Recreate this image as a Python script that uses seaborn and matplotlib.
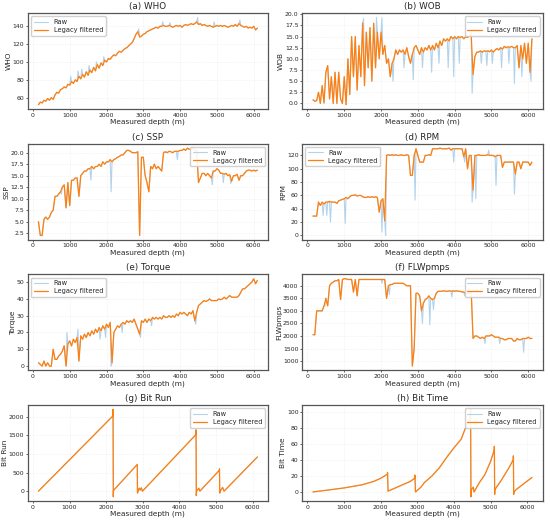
import numpy as np
import pandas as pd
import matplotlib
matplotlib.use('Agg')
import matplotlib.pyplot as plt
from matplotlib.ticker import MultipleLocator
import seaborn as sns

# measured depth sampling (m) for the logged channels
depth = np.arange(150, 6150, 50)

who = [52, 55, 54, 57, 56, 59, 57, 60, 58, 63,
       66, 65, 69, 70, 72, 71, 75, 74, 78, 76,
       80, 78, 84, 81, 86, 83, 89, 85, 91, 88,
       94, 90, 97, 93, 99, 96, 102, 100, 104, 103,
       106, 108, 107, 110, 112, 111, 113, 115, 116, 118,
       120, 122, 126, 131, 134, 128, 129, 131, 132, 134,
       135, 136, 137, 138, 139, 138, 140, 140, 141, 140,
       140, 141, 140, 139, 140, 141, 140, 141, 139, 141,
       142, 141, 142, 143, 142, 143, 145, 142, 143, 141,
       142, 141, 140, 141, 140, 139, 140, 141, 140, 141,
       140, 141, 140, 139, 140, 141, 140, 142, 140, 143,
       141, 140, 139, 140, 138, 139, 138, 140, 136, 138]
who_spk_d = [1025, 1225, 1325, 1525, 1725, 1925, 2875, 3525, 3725, 4475, 4925, 5625]
who_spk_v = [84, 90, 92, 96, 100, 106, 137, 145, 144, 150, 145, 147]

wob = [0.8, 0.5, 0.6, 2.5, 0.0, 4.0, 0.1, 7.0, 8.5, 1.0,
       6.0, 0.0, 7.0, 0.0, 7.0, 1.0, 0.0, 6.0, -0.3, 10.0,
       2.0, 15.0, 6.0, 15.0, 3.0, 13.0, 6.0, 18.0, 4.0, 16.0,
       8.0, 17.0, 5.0, 18.0, 8.0, 16.0, 10.0, 16.0, 11.0, 13.0,
       9.0, 10.0, 6.0, 9.0, 10.0, 12.0, 11.0, 12.0, 11.5, 12.0,
       11.0, 12.5, 10.5, 9.0, 11.0, 12.5, 13.0, 12.0, 11.0, 12.5,
       11.5, 12.5, 12.0, 13.0, 12.0, 13.0, 12.0, 13.5, 12.5, 14.0,
       13.0, 14.5, 14.0, 14.5, 14.0, 15.0, 14.5, 15.0, 14.5, 15.0,
       14.8, 15.0, 14.5, 15.0, 14.8, 15.2, 15.5, 6.5, 10.5, 11.5,
       11.5, 11.8, 11.5, 11.8, 11.7, 11.8, 11.6, 12.0, 11.5, 12.0,
       12.3, 12.0, 12.5, 12.2, 12.8, 12.5, 12.7, 12.6, 12.8, 12.5,
       12.5, 13.0, 8.0, 13.0, 10.0, 13.5, 9.0, 13.5, 7.0, 14.5]
wob_spk_d = [1525, 1875, 2025, 2325, 2625, 2875, 3125, 3375, 3575, 3825, 3975,
             4125, 4475, 4725, 4875, 5025, 5275, 5475, 5625, 5825, 6075]
wob_spk_v = [19.0, 19.3, 19.2, 5.0, 8.0, 5.3, 8.0, 7.0, 9.0, 8.0, 6.0,
             9.0, 2.3, 9.0, 8.5, 9.0, 8.0, 9.0, 4.5, 6.0, 5.0]

ssp = [5.0, 2.0, 2.0, 5.5, 6.0, 5.5, 6.0, 7.0, 7.5, 10.5,
       10.5, 11.0, 11.5, 12.5, 13.0, 8.0, 13.5, 8.5, 14.0, 14.0,
       14.5, 14.5, 10.5, 15.0, 15.5, 16.0, 16.0, 16.5, 16.5, 17.0,
       16.5, 17.0, 17.0, 17.5, 17.0, 18.0, 17.5, 18.0, 18.0, 18.5,
       18.0, 18.5, 18.7, 19.0, 19.2, 19.5, 19.5, 20.0, 20.5, 20.5,
       20.3, 20.0, 20.0, 20.0, 20.2, 2.0, 19.0, 19.0, 15.0, 13.5,
       11.5, 17.0, 16.5, 17.5, 16.5, 17.0, 16.5, 16.0, 20.0, 20.2,
       20.0, 20.3, 20.2, 20.0, 20.3, 20.3, 20.3, 20.5, 20.5, 20.8,
       20.5, 21.0, 20.7, 20.8, 21.0, 20.5, 20.5, 13.5, 14.5, 15.5,
       15.5, 15.0, 15.5, 15.0, 14.5, 16.0, 16.0, 16.5, 16.2, 15.5,
       15.5, 15.3, 15.5, 15.0, 15.2, 13.8, 15.0, 15.0, 15.3, 14.0,
       15.0, 15.0, 15.5, 16.0, 16.2, 16.2, 16.0, 16.2, 16.0, 16.2]
ssp_spk_d = [775, 1575, 2125, 3925, 4875, 5175, 5375]
ssp_spk_v = [11.0, 14.0, 11.5, 18.5, 13.0, 13.5, 13.3]

rpm = [29, 29, 29, 50, 45, 50, 47, 50, 50, 51,
       50, 50, 50, 48, 52, 53, 54, 55, 57, 55,
       58, 60, 60, 61, 59, 60, 60, 58, 57, 57,
       58, 57, 58, 57, 58, 57, 35, 52, 55, 22,
       120, 121, 120, 121, 120, 121, 120, 120, 121, 120,
       120, 121, 120, 90, 90, 120, 130, 120, 110, 110,
       110, 120, 120, 121, 120, 130, 130, 130, 130, 131,
       130, 130, 130, 130, 131, 128, 130, 130, 130, 130,
       130, 130, 118, 130, 100, 120, 120, 68, 120, 120,
       121, 120, 120, 120, 120, 121, 120, 120, 120, 118,
       120, 120, 120, 102, 110, 110, 110, 110, 110, 110,
       92, 110, 110, 100, 110, 110, 110, 110, 105, 110]
rpm_spk_d = [425, 525, 625, 1025, 2025, 2125, 2925, 3975, 4275, 4475, 4575, 4925, 5125, 5625]
rpm_spk_v = [30, 30, 20, 18, 5, 0, 53, 110, 110, 50, 55, 128, 75, 62]

torque = [2, 1, 0, 3, 0, 2, 0, 0, 10, 4,
          4, 6, 7, 9, 12, 0, 13, 15, 12, 16,
          14, 17, 3, 18, 16, 19, 17, 20, 18, 21,
          19, 22, 20, 23, 21, 24, 22, 25, 23, 26,
          2, 20, 22, 24, 23, 25, 26, 25, 27, 26,
          27, 26, 28, 25, 22, 19, 27, 26, 28, 26,
          28, 27, 29, 28, 29, 28, 29, 28, 30, 29,
          29, 30, 29, 30, 29, 31, 30, 32, 31, 32,
          31, 30, 32, 31, 33, 27, 32, 36, 37, 38,
          39, 38.5, 39, 40, 39, 39, 39, 39, 40, 39.5,
          40, 41, 40, 41, 42, 41, 41, 41, 41, 42,
          44, 46, 46, 47, 48, 49, 50, 52, 49, 51]
torque_spk_d = [925, 1225, 1825, 1975, 2125, 2425, 2925, 3225, 4425]
torque_spk_v = [20, 22, 16, 17, 0, 20, 17, 24, 25]

flw = [2050, 2050, 3000, 3000, 3000, 3000, 3200, 3500, 3200, 4000,
       4100, 4150, 4200, 4200, 4250, 3450, 4250, 4280, 4280, 4250,
       4250, 4250, 3750, 4250, 3600, 4250, 4250, 4250, 4250, 4250,
       4250, 4250, 4250, 4250, 4250, 4250, 4250, 4250, 4250, 4250,
       3500, 4000, 4050, 4050, 4100, 4100, 4100, 4100, 4100, 4100,
       4050, 4000, 4000, 4000, 800, 1500, 3700, 3700, 3600, 3000,
       3300, 3450, 3500, 3600, 3500, 3450, 3500, 3700, 3780, 3780,
       3780, 3800, 3780, 3780, 3800, 3780, 3800, 3780, 3800, 3780,
       3780, 3750, 3750, 3700, 3700, 3700, 3800, 1900, 2000, 2000,
       1950, 1900, 1950, 1900, 2000, 2000, 2000, 2050, 2000, 1950,
       1950, 1950, 1900, 1900, 1850, 1850, 1900, 1900, 1900, 1800,
       1800, 1900, 1850, 1850, 1900, 1900, 1900, 1950, 1900, 1900]
flw_spk_d = [475, 2025, 2225, 3125, 3325, 3425, 3925, 4275, 4825, 5225, 5875]
flw_spk_v = [3200, 4100, 3650, 2500, 2450, 3050, 3550, 3600, 1700, 1700, 1350]

bitrun_d = [150, 2180, 2188, 2195, 2200, 2850, 2855, 2870, 2900, 2930, 2960, 2990,
            4450, 4455, 4462, 4470, 4530, 4560, 5090, 5095, 5102, 5110, 5180, 5220, 6130]
bitrun_v = [0, 2020, 2200, -150, 20, 720, -50, 0, 80, 30, 90, 0,
            1520, 1650, -120, 0, 80, 0, 560, 600, -50, 0, 100, 0, 920]

bittime_d = [150, 500, 1000, 1500, 1800, 2000, 2180, 2188, 2200, 2500, 2800, 2930, 2935,
             2950, 3100, 3200, 3400, 3600, 3800, 4000, 4200, 4300, 4450, 4455, 4465,
             4480, 4530, 4550, 4700, 4850, 5000, 5100, 5105, 5112, 5120, 5300, 5500,
             5620, 5625, 5632, 5640, 5700, 6130]
bittime_v = [0, 2, 5, 9, 13, 17, 22, 24, 1, 7, 13, 17, 21,
             0, 6, 12, 20, 30, 43, 55, 66, 78, 94, 103, -6,
             3, 6, 0, 12, 22, 38, 52, 57, -3, 3, 15, 30,
             40, 45, -3, 0, 3, 18]

sns.set_theme(style='whitegrid')
plt.rcParams['font.family'] = ['DejaVu Sans']
plt.rcParams['font.size'] = 5.5

RAW_C = '#a6cbe8'
FILT_C = '#ff7f0e'


def with_spikes(d, v, sd, sv):
    df = pd.DataFrame({'depth': list(d) + list(sd), 'val': list(v) + list(sv)})
    return df.sort_values('depth').reset_index(drop=True)


panels = [
    ('(a) WHO', 'WHO', with_spikes(depth, who, who_spk_d, who_spk_v), pd.DataFrame({'depth': depth, 'val': who}), 'upper left', 20),
    ('(b) WOB', 'WOB', with_spikes(depth, wob, wob_spk_d, wob_spk_v), pd.DataFrame({'depth': depth, 'val': wob}), 'upper right', 2.5),
    ('(c) SSP', 'SSP', with_spikes(depth, ssp, ssp_spk_d, ssp_spk_v), pd.DataFrame({'depth': depth, 'val': ssp}), 'upper right', 2.5),
    ('(d) RPM', 'RPM', with_spikes(depth, rpm, rpm_spk_d, rpm_spk_v), pd.DataFrame({'depth': depth, 'val': rpm}), 'upper left', 20),
    ('(e) Torque', 'Torque', with_spikes(depth, torque, torque_spk_d, torque_spk_v), pd.DataFrame({'depth': depth, 'val': torque}), 'upper left', 10),
    ('(f) FLWpmps', 'FLWpmps', with_spikes(depth, flw, flw_spk_d, flw_spk_v), pd.DataFrame({'depth': depth, 'val': flw}), 'upper right', 500),
    ('(g) Bit Run', 'Bit Run', pd.DataFrame({'depth': bitrun_d, 'val': bitrun_v}), pd.DataFrame({'depth': bitrun_d, 'val': bitrun_v}), 'upper right', 500),
    ('(h) Bit Time', 'Bit Time', pd.DataFrame({'depth': bittime_d, 'val': bittime_v}), pd.DataFrame({'depth': bittime_d, 'val': bittime_v}), 'upper right', 20),
]

fig, axes = plt.subplots(4, 2, figsize=(5.5, 5.22), dpi=100)
fig.subplots_adjust(left=0.05, right=0.987, top=0.975, bottom=0.04, wspace=0.14, hspace=0.36)

for ax, (title, ylab, raw, filt, loc, ystep) in zip(axes.flat, panels):
    sns.lineplot(data=raw, x='depth', y='val', ax=ax, color=RAW_C, lw=0.8, alpha=0.85,
                 estimator=None, sort=False, label='Raw')
    sns.lineplot(data=filt, x='depth', y='val', ax=ax, color=FILT_C, lw=0.9,
                 estimator=None, sort=False, label='Legacy filtered')
    ax.set_title(title, fontsize=6.3, pad=3)
    ax.set_xlabel('Measured depth (m)', fontsize=5.3, labelpad=1)
    ax.set_ylabel(ylab, fontsize=5.3, labelpad=0.5)
    ax.set_xticks([0, 1000, 2000, 3000, 4000, 5000, 6000])
    ax.yaxis.set_major_locator(MultipleLocator(ystep))
    if ystep == 2.5:
        ax.yaxis.set_major_formatter(matplotlib.ticker.FormatStrFormatter('%.1f'))
    ax.tick_params(direction='out', length=1.5, width=0.5, labelsize=4.4, pad=1,
                   bottom=True, left=True)
    ax.grid(True, color='#e4e4e4', lw=0.4, ls=':')
    for s in ax.spines.values():
        s.set_edgecolor('#555555')
        s.set_linewidth(0.9)
    ax.legend(loc=loc, fontsize=4.8, frameon=True, framealpha=0.9, edgecolor='#cccccc',
              handlelength=2.2, borderpad=0.4, labelspacing=0.3)

fig.savefig('out.png', dpi=100)
